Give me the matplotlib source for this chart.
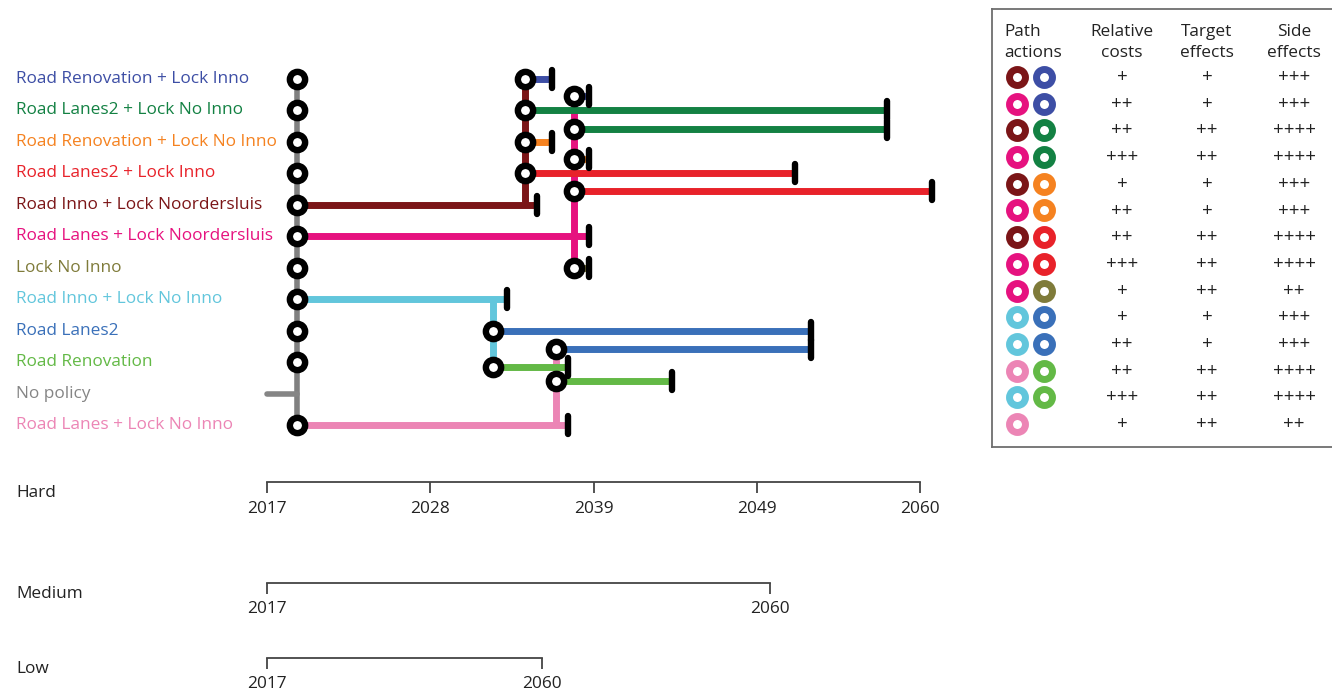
import matplotlib
matplotlib.use("Agg")
import matplotlib.pyplot as plt
import matplotlib.transforms as mtransforms
from matplotlib.markers import MarkerStyle

plt.rcParams['font.family'] = ['Open Sans', 'DejaVu Sans']

W, H = 1332, 691

# pathway actions, top to bottom
labels = ["Road Renovation + Lock Inno", "Road Lanes2 + Lock No Inno",
          "Road Renovation + Lock No Inno", "Road Lanes2 + Lock Inno",
          "Road Inno + Lock Noordersluis", "Road Lanes + Lock Noordersluis",
          "Lock No Inno", "Road Inno + Lock No Inno", "Road Lanes2",
          "Road Renovation", "No policy", "Road Lanes + Lock No Inno"]
colors = ["#3d4ea5", "#138143", "#f58220", "#e8222a", "#7b1517", "#e6127f",
          "#7f7b3a", "#62c6dc", "#3a70b9", "#63b946", "#858585", "#ec85b5"]

start_year = 2019
no_policy_row = 10

# first actions taken from the current situation
first_rows = [4, 5, 7, 11]
first_tip = [2034.0, 2037.2, 2031.9, 2036.0]
first_end = [2034.8, 2038.2, 2032.8, 2036.8]

# follow-up actions after a tipping point
branch_from = [4, 4, 4, 4, 5, 5, 5, 5, 5, 7, 7, 11, 11]
branch_y = [0, 1, 2, 3, 0.55, 1.6, 2.55, 3.55, 6.0, 8.0, 9.15, 8.6, 9.6]
branch_action = [0, 1, 2, 3, 0, 1, 2, 3, 6, 8, 9, 8, 9]
branch_end = [2035.8, 2057.8, 2035.8, 2051.8, 2038.2, 2057.8, 2038.2, 2060.8,
              2038.2, 2052.8, 2036.8, 2052.8, 2043.7]

# scenario time axes
hard_ticks = [2017, 2027.75, 2038.5, 2049.25, 2060]
hard_labels = ["2017", "2028", "2039", "2049", "2060"]
scen_names = ["Hard", "Medium", "Low"]

# scorecard
table_first = [4, 5, 4, 5, 4, 5, 4, 5, 5, 7, 7, 11, 7, 11]
table_second = [0, 0, 1, 1, 2, 2, 3, 3, 6, 8, 8, 9, 9, None]
costs = ["+", "++", "++", "+++", "+", "++", "++", "+++", "+", "+", "++", "++", "+++", "+"]
target = ["+", "+", "++", "++", "+", "+", "++", "++", "++", "+", "+", "++", "++", "++"]
side = ["+++", "+++", "++++", "++++", "+++", "+++", "++++", "++++", "++", "+++", "+++",
        "++++", "++++", "++"]
headers = ["Relative\ncosts", "Target\neffects", "Side\neffects"]

FS = 12.4
fig = plt.figure(figsize=(W / 100, H / 100), dpi=100)


def px_axes(x0, x1, y_top, y_bot):
    return fig.add_axes([x0 / W, 1 - y_bot / H, (x1 - x0) / W, (y_bot - y_top) / H])


# main pathways map
s = (920 - 267) / 43.0
row_px, row0 = 31.45, 79
xl = (2015, 2064)
top_row = -1.3
bot_row = (482 - row0) / row_px
ax = px_axes(267 - (2017 - xl[0]) * s, 920 + (xl[1] - 2060) * s,
             row0 + top_row * row_px, 482)
ax.set_xlim(*xl)
ax.set_ylim(bot_row, top_row)

lw = 5.0
ring = dict(marker='o', ms=11, mew=4.6, mfc='white', mec='black', zorder=4)
bar = dict(marker=MarkerStyle('|', capstyle='round'), ms=13, mew=4.6, color='black', zorder=3)

ax.plot([start_year, start_year], [0, len(labels) - 1], color="#808080", lw=4,
        zorder=1, solid_capstyle='butt')
ax.plot([2017, start_year], [no_policy_row, no_policy_row], color=colors[no_policy_row],
        lw=4, zorder=1, solid_capstyle='round')

for r, tip, end in zip(first_rows, first_tip, first_end):
    ax.plot([start_year, end], [r, r], color=colors[r], lw=lw, zorder=2, solid_capstyle='butt')
    ys = [r] + [y for f, y in zip(branch_from, branch_y) if f == r]
    ax.plot([tip, tip], [min(ys), max(ys)], color=colors[r], lw=lw, zorder=2,
            solid_capstyle='butt')
    ax.plot(end, r, **bar)

for f, y, a, end in zip(branch_from, branch_y, branch_action, branch_end):
    tip = first_tip[first_rows.index(f)]
    ax.plot([tip, end], [y, y], color=colors[a], lw=lw, zorder=2, solid_capstyle='butt')
    ax.plot(end, y, **bar)
    ax.plot(tip, y, **ring)

for r in range(len(labels)):
    if r != no_policy_row:
        ax.plot(start_year, r, **ring)

lab_tr = mtransforms.blended_transform_factory(fig.transFigure, ax.transData)
for r, (name, c) in enumerate(zip(labels, colors)):
    ax.text(16 / W, r, name, color=c, fontsize=FS, va='center', ha='left', transform=lab_tr)

for sp in ["top", "right", "left"]:
    ax.spines[sp].set_visible(False)
ax.set_yticks([])


def style_time_axis(a):
    a.spines["bottom"].set_color("#444444")
    a.spines["bottom"].set_linewidth(1.3)
    a.tick_params(axis='x', direction='out', length=8, width=1.3, color="#444444",
                  labelsize=FS, labelcolor="#222222", pad=6)


ax.spines["bottom"].set_bounds(2017, 2060)
ax.set_xticks(hard_ticks)
ax.set_xticklabels(hard_labels)
style_time_axis(ax)

# medium and low scenarios
for x_end, y_line in [(770, 583), (542, 658)]:
    a = px_axes(267, x_end, y_line - 10, y_line)
    a.set_xlim(2017, 2060)
    a.set_yticks([])
    a.set_xticks([2017, 2060])
    a.set_xticklabels(["2017", "2060"])
    for sp in ["top", "right", "left"]:
        a.spines[sp].set_visible(False)
    a.patch.set_alpha(0)
    style_time_axis(a)
    a.tick_params(axis='x', pad=5)

for name, ypx in zip(scen_names, [493, 594, 669]):
    fig.text(16 / W, 1 - ypx / H, name, fontsize=FS, color="#222222", va='center', ha='left')

# scorecard box
tab = px_axes(992, 1332, 9, 447)
t_row0, t_step = 77, 26.7
tab.set_xlim(0, 340)
tab.set_ylim((447 - t_row0) / t_step, (9 - t_row0) / t_step)
tab.set_xticks([])
tab.set_yticks([])
for sp in ["top", "left", "bottom"]:
    tab.spines[sp].set_color("#6e6e6e")
    tab.spines[sp].set_linewidth(1.3)
tab.spines["right"].set_visible(False)

col_x = [130, 215, 302]
hdr_y = -1.31
tab.text(12, hdr_y, "Path\nactions", fontsize=FS, ha='left', va='center', linespacing=1.42,
         color="#222222")
for cx, h in zip(col_x, headers):
    tab.text(cx, hdr_y, h, fontsize=FS, ha='center', va='center', linespacing=1.42,
             color="#222222")

for i, (a1, a2, c1, c2, c3) in enumerate(zip(table_first, table_second, costs, target, side)):
    tab.plot(25, i, marker='o', ms=11.5, mew=5, mfc='white', mec=colors[a1])
    if a2 is not None:
        tab.plot(52, i, marker='o', ms=11.5, mew=5, mfc='white', mec=colors[a2])
    for cx, v in zip(col_x, [c1, c2, c3]):
        tab.text(cx, i, v, fontsize=13.5, ha='center', va='center', color="#222222")

fig.savefig("out.png", dpi=100)
